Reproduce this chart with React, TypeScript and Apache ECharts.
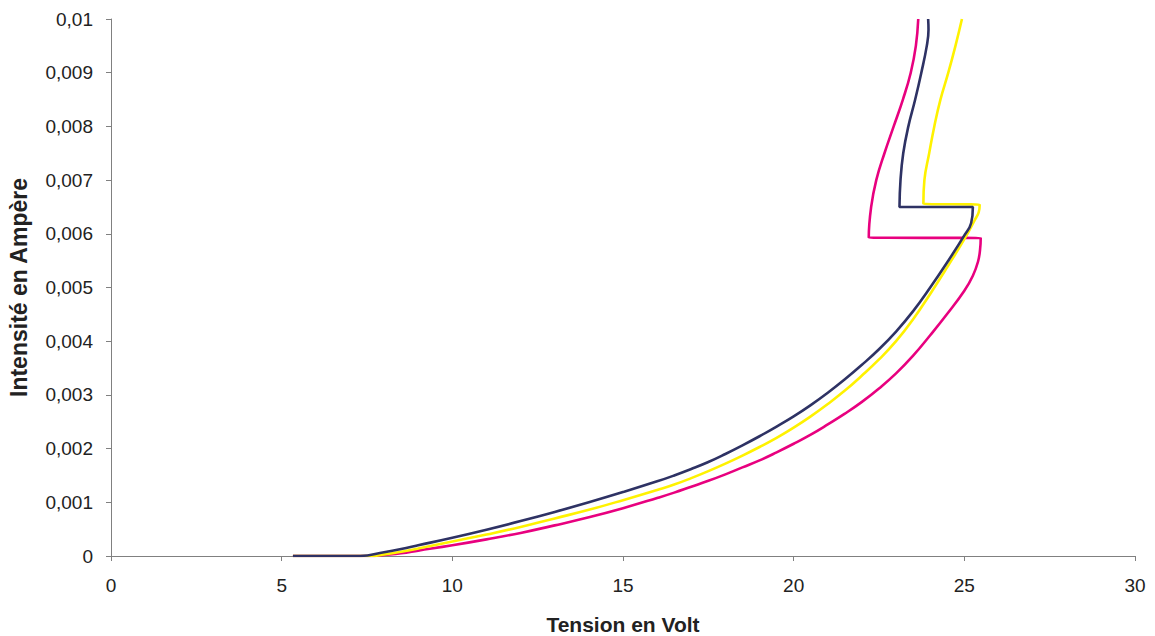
import React, { useEffect, useRef } from "react";
import * as echarts from "echarts";

const xTicks = [0, 5, 10, 15, 20, 25, 30];
const seriesNames = ["Série 1", "Série 2", "Série 3"];

const navy: [number, number][] = [
  [5.33, 0], [7.3, 0], [8, 0.00007], [8.5, 0.00013], [9, 0.0002], [10, 0.00034], [11, 0.00049],
  [12, 0.00065], [13, 0.00082], [14, 0.001], [15, 0.00119], [16, 0.00139], [16.5, 0.0015],
  [17, 0.00162], [17.5, 0.00175], [18, 0.0019], [18.5, 0.00206], [19, 0.00223], [19.5, 0.00241], [20, 0.0026],
  [20.5, 0.00281], [21, 0.00304], [21.5, 0.00329], [22, 0.00356], [22.5, 0.00385],
  [23, 0.00418], [23.5, 0.00456], [24, 0.005], [24.5, 0.00547], [25, 0.00597],
  [25.2, 0.0062], [25.25, 0.0065],
  [23.1, 0.0065], [23.13, 0.007], [23.21, 0.0075], [23.36, 0.008], [23.56, 0.0085],
  [23.74, 0.009], [23.9, 0.0095], [23.95, 0.0098], [23.94, 0.01],
];

const yellow: [number, number][] = [
  [5.33, 0], [7.6, 0], [8, 0.00003], [8.5, 0.00008], [9, 0.00014], [10, 0.00027], [11, 0.0004],
  [12, 0.00054], [13, 0.0007], [14, 0.00086], [15, 0.00104], [16, 0.00123], [16.5, 0.00133],
  [17, 0.00145], [17.5, 0.00158], [18, 0.00172], [18.5, 0.00187], [19, 0.00203], [19.5, 0.0022], [20, 0.00239],
  [20.5, 0.0026], [21, 0.00283], [21.5, 0.00308], [22, 0.00336], [22.5, 0.00366],
  [23, 0.004], [23.5, 0.00441], [24, 0.00488], [24.5, 0.00538], [25, 0.0059],
  [25.3, 0.00625], [25.42, 0.0064], [25.45, 0.00654],
  [23.8, 0.00656], [23.83, 0.007], [23.97, 0.0075], [24.12, 0.008], [24.3, 0.0085],
  [24.53, 0.009], [24.74, 0.0095], [24.93, 0.01],
];

const magenta: [number, number][] = [
  [5.33, 0], [7.6, 0], [8, 0.00002], [8.5, 0.00005], [9, 0.0001], [10, 0.0002], [11, 0.00031],
  [12, 0.00043], [13, 0.00057], [14, 0.00072], [15, 0.00089], [16, 0.00108], [16.5, 0.00118],
  [17, 0.00129], [17.5, 0.0014], [18, 0.00152], [18.5, 0.00165], [19, 0.00178], [19.5, 0.00193], [20, 0.00209],
  [20.5, 0.00226], [21, 0.00245], [21.5, 0.00265], [22, 0.00287], [22.5, 0.00312],
  [23, 0.0034], [23.5, 0.00373], [24, 0.00411], [24.5, 0.00451], [25, 0.00494],
  [25.25, 0.00522], [25.4, 0.00548], [25.46, 0.0057], [25.48, 0.00592],
  [22.2, 0.00593], [22.27, 0.0065], [22.42, 0.007], [22.66, 0.0075], [22.93, 0.008],
  [23.2, 0.0085], [23.43, 0.009], [23.58, 0.0095], [23.65, 0.01],
];

const colors = ["#2E3264", "#FFF200", "#E8007F"];

export default function App() {
  const ref = useRef<HTMLDivElement>(null);
  useEffect(() => {
    if (!ref.current) return;
    const chart = echarts.init(ref.current, undefined, { renderer: "svg" });
    const font = "'Liberation Sans', Arial, sans-serif";
    chart.setOption({
      animation: false,
      backgroundColor: "#ffffff",
      grid: { left: 111, right: 20, top: 19, bottom: 80, containLabel: false, outerBoundsMode: "none" },
      xAxis: {
        type: "value",
        min: xTicks[0],
        max: xTicks[xTicks.length - 1],
        interval: 5,
        name: "Tension en Volt",
        nameLocation: "middle",
        nameGap: 58,
        nameTextStyle: { fontFamily: font, fontSize: 21, fontWeight: "bold", color: "#222" },
        axisLine: { lineStyle: { color: "#808080", width: 1 } },
        axisTick: { show: true, length: 5, lineStyle: { color: "#808080" } },
        axisLabel: { fontFamily: font, fontSize: 19, color: "#222", margin: 20 },
        splitLine: { show: false },
      },
      yAxis: {
        type: "value",
        min: 0,
        max: 0.01,
        interval: 0.001,
        name: "Intensité en Ampère",
        nameLocation: "middle",
        nameGap: 81,
        nameRotate: 90,
        nameTextStyle: { fontFamily: font, fontSize: 23, fontWeight: "bold", color: "#222" },
        axisLine: { show: true, lineStyle: { color: "#808080", width: 1 } },
        axisTick: { show: true, length: 5, lineStyle: { color: "#808080" } },
        axisLabel: {
          fontFamily: font,
          fontSize: 19,
          color: "#222",
          margin: 18,
          formatter: (v: number) => Number(v.toFixed(4)).toString().replace(".", ","),
        },
        splitLine: { show: false },
      },
      series: [navy, yellow, magenta].map((d, i) => ({
        name: seriesNames[i],
        type: "line",
        data: d,
        showSymbol: false,
        smooth: 0.45,
        z: 3 - i,
        lineStyle: { color: colors[i], width: 2.6 },
        itemStyle: { color: colors[i] },
      })),
    });
    return () => chart.dispose();
  }, []);
  return (
    <div
      ref={ref}
      style={{ position: "absolute", left: 0, top: 0, width: 1155, height: 636 }}
    />
  );
}
